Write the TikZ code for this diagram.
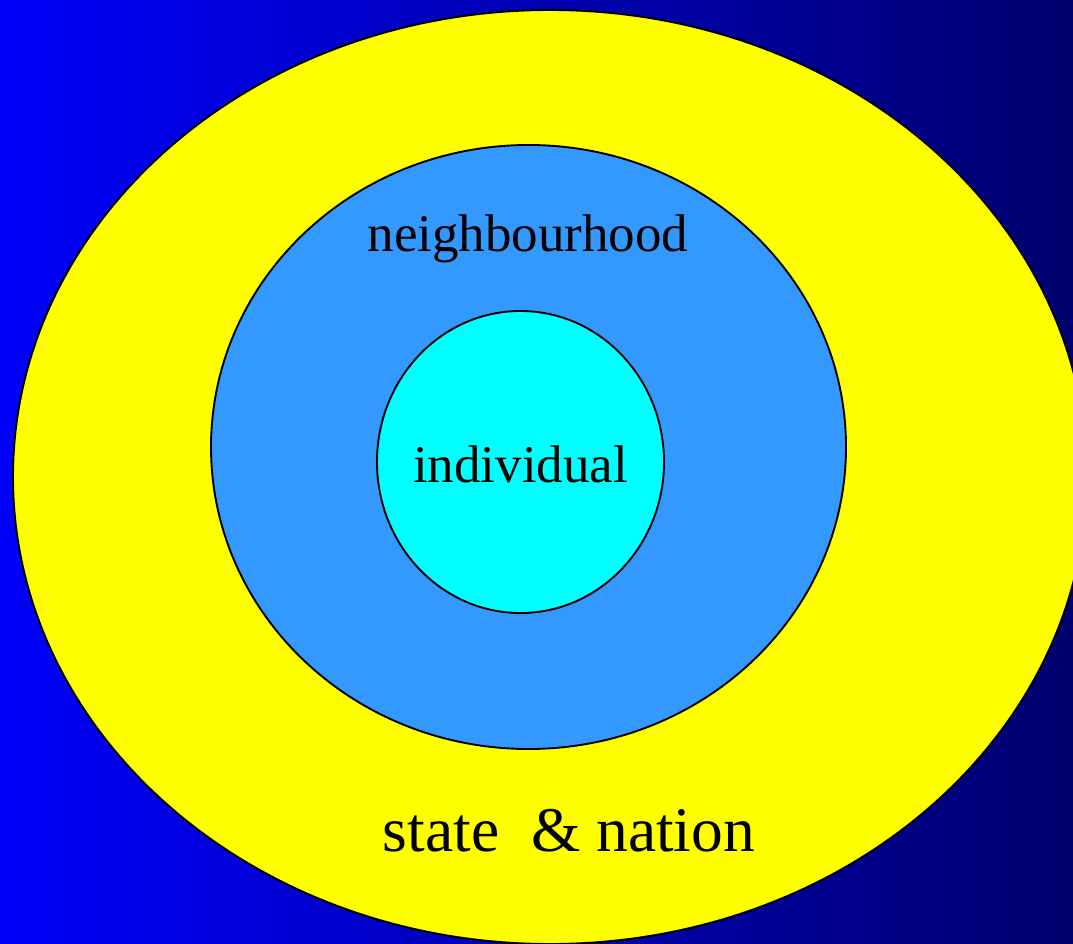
\documentclass[tikz,border=0pt]{standalone}
\usepackage{fontspec}
\setmainfont{Liberation Serif}
\begin{document}
\begin{tikzpicture}[x=1pt,y=-1pt,
  ring/.style={draw=black,line width=1.9pt},
  lbl/.style={anchor=base,inner sep=0pt,text=black}]
\useasboundingbox (0,0) rectangle (1073,944);
\shade[left color={rgb,255:red,0;green,0;blue,250},right color={rgb,255:red,0;green,0;blue,110}] (0,0) rectangle (1073,944);
\begin{scope}
\clip (0,0) rectangle (1073,944);
\path[ring,fill={rgb,255:red,255;green,255;blue,0}] (550,477) ellipse [x radius=537,y radius=467];
\end{scope}
\path[ring,fill={rgb,255:red,51;green,153;blue,255}] (528.5,447) ellipse [x radius=317.5,y radius=302];
\path[ring,fill={rgb,255:red,0;green,255;blue,255}] (520.5,462) ellipse [x radius=143.5,y radius=151];
\node[lbl,font=\fontsize{53}{60}\selectfont] (nb) at (528,251) {neighbourhood};
\node[lbl,font=\fontsize{53}{60}\selectfont] (ind) at (520.5,482) {individual};
\node[lbl,font=\fontsize{63.5}{70}\selectfont] (st) at (569,851) {state\ \ \& nation};
\end{tikzpicture}
\end{document}
